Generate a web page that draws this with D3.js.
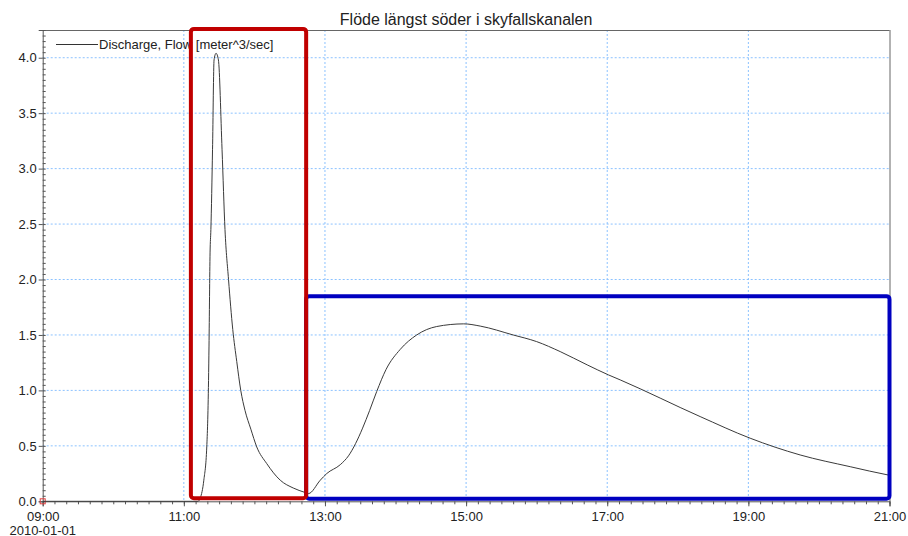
<!DOCTYPE html>
<html>
<head>
<meta charset="utf-8">
<script src="https://cdn.jsdelivr.net/npm/d3@7"></script>
<style>
  body { margin: 0; background: #fff; }
  text { font-family: "Liberation Sans", Arial, sans-serif; fill: #222; }
</style>
</head>
<body>
<svg id="chart" width="908" height="536"></svg>
<script>
// ---- data ----
const title = "Flöde längst söder i skyfallskanalen";
const seriesName = "Discharge, Flow [meter^3/sec]";
const times = ["09:00","11:00","11:12","11:14","11:17","11:19.5","11:21","11:21.4","11:22.3","11:23","11:24.4","11:25.7","11:27.4",
  "11:29.4","11:32.5","11:35","11:38","11:41.6","11:45","11:48.4","11:52","11:57","12:02","12:10.5","12:22","12:33","12:43","12:46",
  "12:56","13:01.5","13:13","13:20","13:26","13:32","13:38","13:44","13:52","14:04","14:18","14:35","14:58","15:12","15:40",
  "16:00","16:20","16:43","17:01","17:11","18:19","19:01.5","19:44","20:26.6","20:59","21:00"];
const flow = [0,0,0,0.03,0.19,0.49,1.09,1.40,2.24,2.45,3.17,3.98,4.04,
  3.98,3.17,2.45,2.00,1.55,1.26,1.00,0.82,0.65,0.49,0.34,0.19,0.12,0.08,0.07,
  0.19,0.25,0.33,0.41,0.52,0.66,0.82,0.99,1.19,1.37,1.50,1.576,1.60,1.58,1.50,
  1.44,1.35,1.23,1.14,1.095,0.764,0.569,0.418,0.312,0.237,0.235];
const xTickLabels = ["09:00","11:00","13:00","15:00","17:00","19:00","21:00"];
const yTickValues = [0,0.5,1.0,1.5,2.0,2.5,3.0,3.5,4.0];
const dateLabel = "2010-01-01";
// annotation boxes (data units)
const redBox = {t0:"11:06", t1:"12:44", v0:0.027, v1:4.26};
const blueBox = {t0:"12:44", t1:"21:00", v0:0.024, v1:1.85};

// ---- helpers ----
function toDate(s){
  const [h,m] = s.split(":").map(Number);
  const mm = Math.floor(m), sec = Math.round((m-mm)*60);
  return new Date(2010,0,1,h,mm,sec);
}
const data = times.map((t,i)=>({t:toDate(t), v:flow[i]}));

const svg = d3.select("#chart");
const L = 42.7, R = 889.5, T = 30, B = 501.3;
const x = d3.scaleTime().domain([toDate("09:00"), toDate("21:00")]).range([L, R]);
const y = d3.scaleLinear().domain([0, 4.25]).range([B, T]);

svg.append("rect").attr("width",908).attr("height",536).attr("fill","#fff");

// grid
const gridColor = "#8cc2ff";
svg.append("g").selectAll("line").data(yTickValues.filter(v=>v>0)).join("line")
  .attr("x1",L).attr("x2",R).attr("y1",d=>y(d)).attr("y2",d=>y(d))
  .attr("stroke",gridColor).attr("stroke-width",1).attr("stroke-dasharray","2,2");
svg.append("g").selectAll("line").data(xTickLabels.slice(1,-1)).join("line")
  .attr("x1",d=>x(toDate(d))).attr("x2",d=>x(toDate(d))).attr("y1",T).attr("y2",B)
  .attr("stroke",gridColor).attr("stroke-width",1).attr("stroke-dasharray","2,2");

// frame
svg.append("line").attr("x1",L).attr("x2",R).attr("y1",T+0.5).attr("y2",T+0.5).attr("stroke","#666");
svg.append("line").attr("x1",R+0.5).attr("x2",R+0.5).attr("y1",T).attr("y2",B).attr("stroke","#666");

// x axis
const xMajor = xTickLabels.map(toDate);
const xMinor = d3.timeMinute.every(10).range(toDate("09:00"), toDate("21:01"));
const gx = svg.append("g").attr("transform",`translate(0,${B})`);
gx.call(d3.axisBottom(x).tickValues(xMinor).tickSize(3).tickFormat(""))
  .call(g=>g.select(".domain").remove())
  .call(g=>g.selectAll("line").attr("stroke","#555"));
const gx2 = svg.append("g").attr("transform",`translate(0,${B})`);
gx2.call(d3.axisBottom(x).tickValues(xMajor).tickSize(5).tickPadding(5).tickFormat(d3.timeFormat("%H:%M")))
  .call(g=>g.select(".domain").attr("stroke","#555"))
  .call(g=>g.selectAll("line").attr("stroke","#555"))
  .call(g=>g.selectAll("text").attr("font-size",13).attr("fill","#222")
        .style("font-family","'Liberation Sans', Arial, sans-serif"));
svg.append("text").attr("x",L).attr("y",534.5).attr("text-anchor","middle")
  .attr("font-size",13).text(dateLabel);

// y axis
const yMinor = d3.range(0, 4.2501, 0.05);
const gy = svg.append("g").attr("transform",`translate(${L},0)`);
gy.call(d3.axisRight(y).tickValues(yMinor).tickSize(3).tickFormat(""))
  .call(g=>g.select(".domain").remove())
  .call(g=>g.selectAll("line").attr("stroke","#555"));
const gy2 = svg.append("g").attr("transform",`translate(${L},0)`);
gy2.call(d3.axisLeft(y).tickValues(yTickValues).tickSize(4).tickPadding(2).tickFormat(d3.format(".1f")))
  .call(g=>g.select(".domain").attr("stroke","#555"))
  .call(g=>g.selectAll("line").attr("stroke","#555"))
  .call(g=>g.selectAll("text").attr("font-size",13).attr("fill","#222")
        .style("font-family","'Liberation Sans', Arial, sans-serif"));

// origin marker
svg.append("rect").attr("x",L-2.5).attr("y",B-2.5).attr("width",5).attr("height",5)
  .attr("fill","none").attr("stroke","#e04040").attr("stroke-width",1);

// series line
const line = d3.line().x(d=>x(d.t)).y(d=>y(d.v)).curve(d3.curveMonotoneX);
svg.append("path").datum(data).attr("d",line)
  .attr("fill","none").attr("stroke","#3a3a3a").attr("stroke-width",1);

// legend
svg.append("line").attr("x1",56).attr("x2",98).attr("y1",44.5).attr("y2",44.5)
  .attr("stroke","#333").attr("stroke-width",1);
svg.append("text").attr("x",99).attr("y",49).attr("font-size",13).text(seriesName);

// title
svg.append("text").attr("x",(L+R)/2).attr("y",25).attr("text-anchor","middle")
  .attr("font-size",16).text(title);

// annotation boxes
function box(b, color){
  const x0 = x(toDate(b.t0)), x1 = x(toDate(b.t1));
  const y0 = y(b.v1), y1 = y(b.v0);
  svg.append("rect").attr("x",x0).attr("y",y0).attr("width",x1-x0).attr("height",y1-y0)
    .attr("rx",3).attr("ry",3).attr("fill","none").attr("stroke",color).attr("stroke-width",4);
}
box(blueBox, "#0000c0");
box(redBox, "#c00000");
</script>
</body>
</html>
